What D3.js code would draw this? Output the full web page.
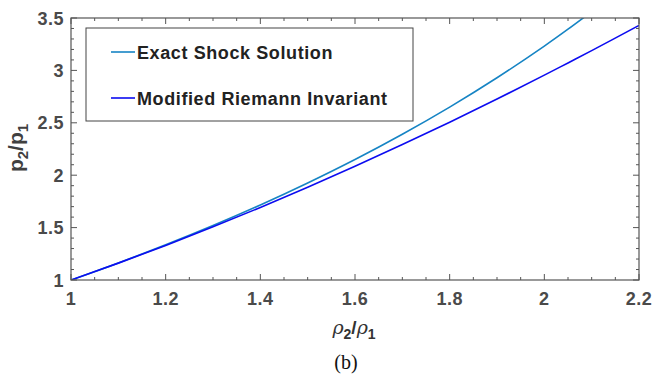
<!DOCTYPE html>
<html>
<head>
<meta charset="utf-8">
<script src="https://cdn.jsdelivr.net/npm/d3@7"></script>
<style>
  html, body { margin: 0; padding: 0; background: #fff; }
  svg { display: block; }
  .tick-label { font-family: "Liberation Sans", Arial, sans-serif; font-weight: bold; font-size: 18px; fill: #4a4a4a; letter-spacing: 0.5px; }
  .legend-text { font-family: "Liberation Sans", Arial, sans-serif; font-weight: bold; font-size: 18px; fill: #222; letter-spacing: 0.6px; }
</style>
</head>
<body>
<svg id="chart" width="653" height="374"></svg>
<script>
// density ratio rho2/rho1
const densityRatio = [1.0, 1.1, 1.2, 1.3, 1.4, 1.5, 1.6, 1.7, 1.8, 1.9, 2.0, 2.05, 2.1, 2.2];
// pressure ratio p2/p1 across the shock
const exactShock = [1.0, 1.163, 1.336, 1.520, 1.716, 1.926, 2.150, 2.391, 2.650, 2.930, 3.232, 3.393, 3.561, null];
// pressure ratio from the modified Riemann invariant
const modifiedRiemann = [1.0, 1.161, 1.330, 1.507, 1.692, 1.885, 2.085, 2.292, 2.506, 2.727, 2.955, 3.071, 3.189, 3.429];

const seriesNames = ["Exact Shock Solution", "Modified Riemann Invariant"];
const seriesColors = ["#1684c4", "#0c0cf0"];
const xTicks = [1, 1.2, 1.4, 1.6, 1.8, 2, 2.2];
const yTicks = [1, 1.5, 2, 2.5, 3, 3.5];

const svg = d3.select("#chart");
const plotL = 71, plotR = 639, plotT = 18, plotB = 280;
const x = d3.scaleLinear().domain([1, 2.2]).range([plotL, plotR]);
const y = d3.scaleLinear().domain([1, 3.5]).range([plotB, plotT]);
const axisColor = "#555";

svg.append("defs").append("clipPath").attr("id", "plotClip")
  .append("rect").attr("x", plotL).attr("y", plotT).attr("width", plotR - plotL).attr("height", plotB - plotT);

// curves
const series = [exactShock, modifiedRiemann];
const line = d3.line()
  .defined(d => d[1] != null)
  .x(d => x(d[0])).y(d => y(d[1]))
  .curve(d3.curveCatmullRom);
series.forEach((vals, i) => {
  const pts = densityRatio.map((r, j) => [r, vals[j]]);
  svg.append("path")
    .attr("clip-path", "url(#plotClip)")
    .attr("d", line(pts))
    .attr("fill", "none")
    .attr("stroke", seriesColors[i])
    .attr("stroke-width", 1.6);
});

// axis box
svg.append("rect").attr("x", plotL).attr("y", plotT).attr("width", plotR - plotL).attr("height", plotB - plotT)
  .attr("fill", "none").attr("stroke", axisColor).attr("stroke-width", 1.2);

// ticks (inward, on all four sides)
const xMinor = d3.range(1, 2.2001, 0.05);
const yMinor = d3.range(1, 3.5001, 0.1);
const isMajor = (v, step) => Math.abs(v / step - Math.round(v / step)) < 1e-6;
const tg = svg.append("g").attr("stroke", axisColor).attr("stroke-width", 1);
xMinor.forEach(v => {
  const len = isMajor(v, 0.2) ? 6 : 3;
  const px = x(v);
  tg.append("line").attr("x1", px).attr("x2", px).attr("y1", plotB).attr("y2", plotB - len);
  tg.append("line").attr("x1", px).attr("x2", px).attr("y1", plotT).attr("y2", plotT + len);
});
yMinor.forEach(v => {
  const len = isMajor(v, 0.5) ? 6 : 3;
  const py = y(v);
  tg.append("line").attr("x1", plotL).attr("x2", plotL + len).attr("y1", py).attr("y2", py);
  tg.append("line").attr("x1", plotR).attr("x2", plotR - len).attr("y1", py).attr("y2", py);
});

// tick labels
svg.append("g").selectAll("text").data(xTicks).join("text")
  .attr("class", "tick-label")
  .attr("x", d => x(d)).attr("y", 305)
  .attr("text-anchor", "middle")
  .text(d => d3.format("")(d));
svg.append("g").selectAll("text").data(yTicks).join("text")
  .attr("class", "tick-label")
  .attr("x", 64).attr("y", d => y(d) + 6.5)
  .attr("text-anchor", "end")
  .text(d => d3.format("")(d));

// y axis title: p2/p1
const yTitle = svg.append("text")
  .attr("transform", "translate(23,148) rotate(-90)")
  .attr("text-anchor", "middle")
  .attr("font-family", "Liberation Sans, Arial, sans-serif")
  .attr("font-weight", "bold")
  .attr("font-size", 21)
  .attr("fill", "#404040");
yTitle.append("tspan").text("p");
yTitle.append("tspan").attr("font-size", 15).attr("dy", 5).text("2");
yTitle.append("tspan").attr("dy", -5).text("/p");
yTitle.append("tspan").attr("font-size", 15).attr("dy", 5).text("1");

// x axis title: rho2/rho1
const xTitle = svg.append("text")
  .attr("x", 354).attr("y", 334)
  .attr("text-anchor", "middle")
  .attr("fill", "#333");
xTitle.append("tspan").attr("font-family", "DejaVu Serif, serif").attr("font-style", "italic").attr("font-size", 19).text("ρ");
xTitle.append("tspan").attr("font-family", "Liberation Sans, Arial, sans-serif").attr("font-weight", "bold").attr("font-size", 14).attr("dy", 5).text("2");
xTitle.append("tspan").attr("font-family", "Liberation Sans, Arial, sans-serif").attr("font-weight", "bold").attr("font-size", 19).attr("dy", -5).text("/");
xTitle.append("tspan").attr("font-family", "DejaVu Serif, serif").attr("font-style", "italic").attr("font-size", 19).text("ρ");
xTitle.append("tspan").attr("font-family", "Liberation Sans, Arial, sans-serif").attr("font-weight", "bold").attr("font-size", 14).attr("dy", 5).text("1");

// caption
svg.append("text").attr("x", 346).attr("y", 369)
  .attr("text-anchor", "middle")
  .attr("font-family", "Liberation Serif, serif")
  .attr("font-size", 20).attr("fill", "#111")
  .text("(b)");

// legend
const lg = svg.append("g");
lg.append("rect").attr("x", 86).attr("y", 28).attr("width", 327).attr("height", 93)
  .attr("fill", "#fff").attr("stroke", "#444").attr("stroke-width", 1);
seriesNames.forEach((name, i) => {
  const cy = 52 + i * 46;
  lg.append("line").attr("x1", 111).attr("x2", 135).attr("y1", cy).attr("y2", cy)
    .attr("stroke", seriesColors[i]).attr("stroke-width", 1.6);
  lg.append("text").attr("class", "legend-text").attr("x", 137).attr("y", cy + 7).text(name);
});
</script>
</body>
</html>
